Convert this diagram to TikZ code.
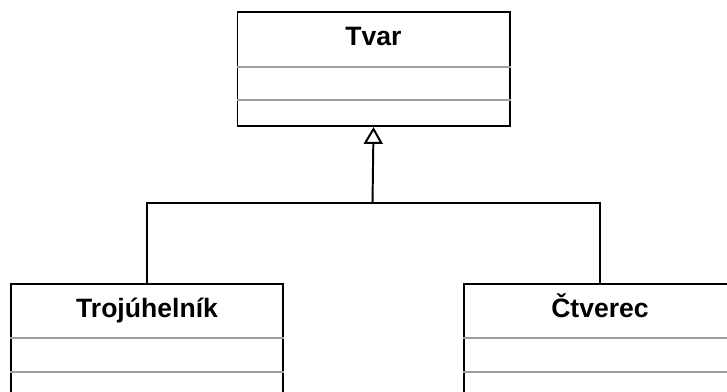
\documentclass[tikz,border=0pt]{standalone}
\usepackage{fontspec}
\setmainfont{Liberation Sans}
\usetikzlibrary{arrows.meta}

\tikzset{
  classbox/.style={draw=black, line width=1.4pt, anchor=north west, inner sep=0pt,
    minimum width=6.8cm, minimum height=2.85cm},
  classname/.style={anchor=base, inner sep=0pt, font=\fontsize{18.9}{22}\selectfont\bfseries},
  divider/.style={draw=black!38, line width=1.4pt},
  link/.style={draw=black, line width=1.4pt},
}

\begin{document}
\begin{tikzpicture}[x=0.025cm, y=-0.025cm]
\clip (0,0) rectangle (727,392);
% classes
\node[classbox] (tvar) at (236.5,11) {};
\node[classbox] (troj) at (10,283) {};
\node[classbox] (ctv) at (463,283) {};
\node[classname] (tvarname) at ([yshift=-0.85cm]tvar.north) {Tvar};
\node[classname] (trojname) at ([yshift=-0.85cm]troj.north) {Trojúhelník};
\node[classname] (ctvname) at ([yshift=-0.85cm]ctv.north) {Čtverec};
\coordinate (joint) at (372.5,203);
%compartments
\draw[divider] ([yshift=-1.4cm]tvar.north west) -- ([yshift=-1.4cm]tvar.north east);
\draw[divider] ([yshift=-2.225cm]tvar.north west) -- ([yshift=-2.225cm]tvar.north east);
\draw[divider] ([yshift=-1.375cm]troj.north west) -- ([yshift=-1.375cm]troj.north east);
\draw[divider] ([yshift=-2.225cm]troj.north west) -- ([yshift=-2.225cm]troj.north east);
\draw[divider] ([yshift=-1.375cm]ctv.north west) -- ([yshift=-1.375cm]ctv.north east);
\draw[divider] ([yshift=-2.225cm]ctv.north west) -- ([yshift=-2.225cm]ctv.north east);
% generalisation
\draw[link] (troj.north) |- (joint);
\draw[link] (ctv.north) |- (joint);
\draw[link, -{Triangle[open, length=12pt, width=13.5pt]}] (joint) -- (tvar.south);
\end{tikzpicture}
\end{document}
